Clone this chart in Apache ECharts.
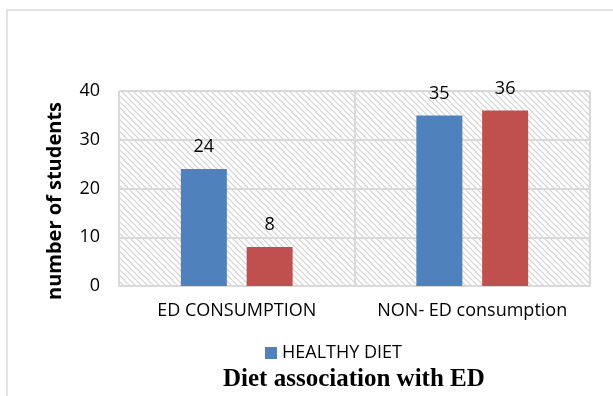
<!DOCTYPE html>
<html>
<head>
<meta charset="utf-8">
<script src="https://cdn.jsdelivr.net/npm/echarts@6/dist/echarts.min.js"></script>
<style>
  html, body { margin: 0; padding: 0; background: #fff; }
  #chart { width: 613px; height: 396px; }
</style>
</head>
<body>
<div id="chart"></div>
<script>
// Categories and values
const categories = ['ED CONSUMPTION', 'NON- ED consumption'];
const healthyDiet = [24, 35];
const otherDiet = [8, 36];
const legendNames = ['HEALTHY DIET'];
const yTicks = { min: 0, max: 40, interval: 10 };

// Diagonal hatch used as the plot-area background
function hatchPattern() {
  const s = 6;
  const c = document.createElement('canvas');
  c.width = s; c.height = s;
  const ctx = c.getContext('2d');
  ctx.fillStyle = '#ffffff';
  ctx.fillRect(0, 0, s, s);
  ctx.strokeStyle = '#d2d2d2';
  ctx.lineWidth = 1.2;
  ctx.beginPath();
  ctx.moveTo(0, 0); ctx.lineTo(s, s);
  ctx.moveTo(-1, s - 1); ctx.lineTo(1, s + 1);
  ctx.moveTo(s - 1, -1); ctx.lineTo(s + 1, 1);
  ctx.stroke();
  return { image: c, repeat: 'repeat' };
}

const font = '"Open Sans", sans-serif';
const chart = echarts.init(document.getElementById('chart'), null, { renderer: 'canvas' });

chart.setOption({
  animation: false,
  backgroundColor: '#ffffff',
  title: {
    text: 'Diet association with ED',
    left: 218,
    top: 362,
    textStyle: { fontFamily: '"Liberation Serif", serif', fontWeight: 'bold', fontSize: 25, color: '#000' }
  },
  legend: {
    data: legendNames,
    top: 339,
    left: 260,
    itemWidth: 12,
    itemHeight: 12,
    itemGap: 5,
    icon: 'rect',
    textStyle: { fontFamily: font, fontSize: 18, color: '#000' }
  },
  graphic: [{
    type: 'rect',
    shape: { x: 7, y: 10, width: 700, height: 500 },
    style: { fill: 'none', stroke: '#d9d9d9', lineWidth: 1.5 },
    silent: true, z: -1
  }],
  grid: {
    left: 119, right: 23, top: 91, bottom: 110,
    show: true,
    backgroundColor: hatchPattern(),
    borderWidth: 0
  },
  xAxis: {
    type: 'category',
    data: categories,
    axisLine: { show: true, lineStyle: { color: '#d9d9d9', width: 2 } },
    axisTick: { show: false },
    splitLine: { show: true, lineStyle: { color: '#d9d9d9', width: 2 } },
    axisLabel: { interval: 0, fontFamily: font, fontSize: 18, color: '#000', margin: 16 }
  },
  yAxis: {
    type: 'value',
    min: yTicks.min, max: yTicks.max, interval: yTicks.interval,
    name: 'number of students',
    nameLocation: 'middle',
    nameGap: 54,
    nameTextStyle: { fontFamily: font, fontWeight: 'bold', fontSize: 20, color: '#000', padding: [0, 25, 0, 0] },
    axisLine: { show: false },
    axisTick: { show: false },
    splitLine: { show: true, lineStyle: { color: '#d9d9d9', width: 2 } },
    axisLabel: { fontFamily: font, fontSize: 18, color: '#000', margin: 19 }
  },
  series: [
    {
      name: 'HEALTHY DIET',
      type: 'bar',
      data: healthyDiet,
      barWidth: 46,
      barGap: '43%',
      itemStyle: { color: '#4f81bd' },
      label: { show: true, position: 'top', distance: 13, fontFamily: font, fontSize: 18, color: '#000' }
    },
    {
      name: 'OTHER',
      type: 'bar',
      data: otherDiet,
      barWidth: 46,
      itemStyle: { color: '#c0504d' },
      label: { show: true, position: 'top', distance: 13, fontFamily: font, fontSize: 18, color: '#000' }
    }
  ]
});
</script>
</body>
</html>
